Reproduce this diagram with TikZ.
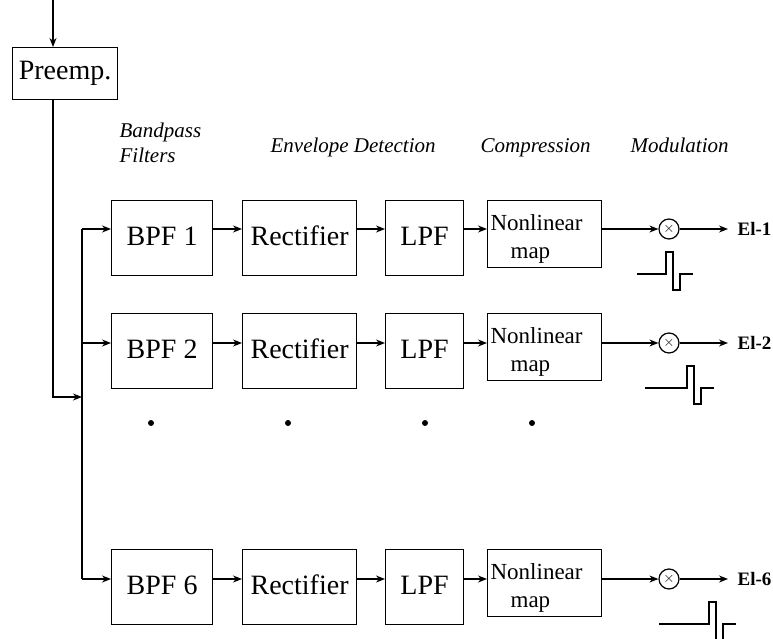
\documentclass[tikz,border=0pt]{standalone}
\usepackage{fontspec}
\setmainfont{Liberation Serif}
\usetikzlibrary{arrows.meta}

\tikzset{
  sig/.style={-{Stealth[length=9pt,width=7pt]}},
  blk/.style={draw, minimum height=75pt, inner sep=0pt, anchor=north west,
    text depth=4pt, font=\fontsize{28}{30}\selectfont},
  nlblk/.style={draw, minimum height=67pt, text width=108pt, inner sep=3pt,
    align=left, anchor=north west, font=\fontsize{23}{28}\selectfont},
  mult/.style={draw, circle, minimum size=20pt, inner sep=0pt,
    font=\fontsize{15}{15}\selectfont},
  hdr/.style={anchor=base west, inner sep=0pt, align=left,
    font=\fontsize{21}{25}\selectfont\itshape},
  outlbl/.style={anchor=west, inner xsep=9pt, inner ysep=0pt,
    font=\fontsize{19}{20}\selectfont\bfseries},
}

% stimulation pulse: start x, baseline y, lead length
\newcommand{\pulsewave}[3]{%
  \draw (#1,#2) -- ++(#3,0) -- ++(0,-22) -- ++(7,0) -- ++(0,38)
    -- ++(7,0) -- ++(0,-16) -- ++(13,0);}

\begin{document}
\begin{tikzpicture}[x=1pt, y=-1pt, line width=1.2pt]
	\clip (0,0) rectangle (773,639);
	% input and pre-emphasis
	\coordinate (in) at (53,0);
	\node[blk, minimum width=105pt, minimum height=52pt, text depth=6pt] (pre) at (12,47) {Preemp.};
	\draw[sig] (in) -- (in |- pre.north);
	\coordinate (bus) at (82,397);
	\draw[sig] (in |- pre.south) |- (bus);

	% stage headers (base of a two-line node is its last line)
	\node[hdr] (hbpf) at (119,163) {Bandpass\\Filters};
	\node[hdr] (henv) at (270,153) {Envelope Detection};
	\node[hdr] (hcmp) at (480,153) {Compression};
	\node[hdr] (hmod) at (630,153) {Modulation};

	% channels
	\foreach \r/\top/\y/\lead/\px in {1/200/229/29/637, 2/313/343/42/645, 6/549/579/50/659}
	{
		\coordinate (row\r) at (0,\y);
		\node[blk, minimum width=101pt] (bpf\r) at (111,\top) {BPF \r};
		\node[blk, minimum width=114pt] (rect\r) at (242,\top) {Rectifier};
		\node[blk, minimum width=78pt] (lpf\r) at (385,\top) {LPF};
		\node[nlblk] (nl\r) at (487,\top) {\rule{0pt}{26pt}Nonlinear\\\hspace*{20pt}map};
		\node[mult] (mult\r) at (669,\y) {$\times$};
		\node[outlbl] (el\r) at (728,\y) {El-\r};
		\draw[sig] (bus |- row\r) -- (bpf\r.west |- row\r);
		\draw[sig] (bpf\r.east |- row\r) -- (rect\r.west |- row\r);
		\draw[sig] (rect\r.east |- row\r) -- (lpf\r.west |- row\r);
		\draw[sig] (lpf\r.east |- row\r) -- (nl\r.west |- row\r);
		\draw[sig] (nl\r.east |- row\r) -- (mult\r);
		\draw[sig] (mult\r) -- (el\r);
		\pulsewave{\px}{\y+45}{\lead}
	}
	\draw (bus |- row1) -- (bus |- row6);

	% omitted channels
	\foreach \x in {151, 288, 425, 532}
	{\fill (\x,423) circle (3pt);}
\end{tikzpicture}
\end{document}
